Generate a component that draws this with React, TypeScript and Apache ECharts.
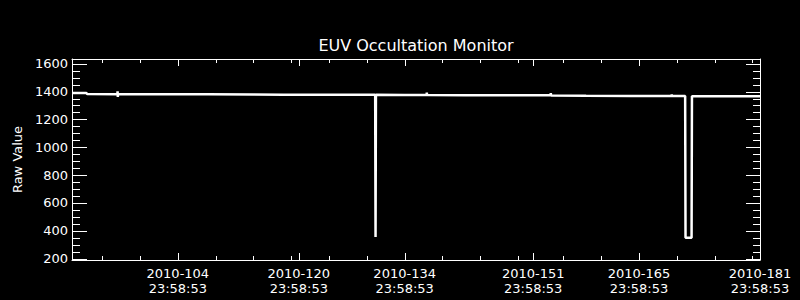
import React, { useEffect, useRef } from "react";
import * as echarts from "echarts";

// x values: days since 2010-090 23:58:53
const X_MIN = 0;
const X_MAX = 91;
const Y_MIN = 190;
const Y_MAX = 1634;

const majorTickDays = [14, 30, 44, 61, 75, 91];
const majorTickLabels = [
  "2010-104\n23:58:53",
  "2010-120\n23:58:53",
  "2010-134\n23:58:53",
  "2010-151\n23:58:53",
  "2010-165\n23:58:53",
  "2010-181\n23:58:53",
];
const minorTickDays = [4, 9, 14, 19, 24, 29, 34, 39, 44, 49, 54, 59, 65, 70, 75, 80, 85, 90];

const yMajorTicks = [200, 400, 600, 800, 1000, 1200, 1400, 1600];
const yMinorTicks = [
  200, 250, 300, 350, 400, 450, 500, 550, 600, 650, 700, 750, 800, 850, 900, 950, 1000,
  1050, 1100, 1150, 1200, 1250, 1300, 1350, 1400, 1450, 1500, 1550, 1600,
];

const sampleDays = [
  0, 1.9, 2.0, 6.0, 6.03, 6.06, 6.09, 12, 18, 24, 28, 33, 37, 40.1, 40.15, 40.2, 44, 46.9,
  46.93, 46.96, 52, 57, 63.3, 63.33, 63.36, 68, 74, 78, 79.3, 79.33, 79.36, 81.1, 81.15,
  81.95, 82.0, 85, 88, 91,
];
const rawValues = [
  1390, 1389, 1382, 1381, 1402, 1361, 1381, 1381, 1380, 1379, 1378, 1378, 1377, 1377, 355,
  1377, 1376, 1375, 1392, 1375, 1374, 1373, 1373, 1388, 1372, 1370, 1369, 1368, 1368, 1380,
  1368, 1368, 350, 350, 1367, 1367, 1366, 1366,
];

const FONT = "DejaVu Sans";
const WHITE = "#ffffff";

// Tick marks drawn through the axes' own scales (api.coord), on all four sides of the box.
const tickSeries = (kind: "x" | "y", values: number[], lenA: number, lenB: number) => ({
  type: "custom",
  xAxisIndex: 0,
  yAxisIndex: 0,
  clip: false,
  silent: true,
  z: 5,
  data: values.map((v) => (kind === "x" ? [v, Y_MIN] : [X_MIN, v])),
  encode: { x: 0, y: 1 },
  renderItem: (_params: any, api: any) => {
    const style = { stroke: WHITE, lineWidth: 1 };
    if (kind === "x") {
      const v = api.value(0);
      const b = api.coord([v, Y_MIN]);
      const t = api.coord([v, Y_MAX]);
      const x = Math.round(b[0]) + 0.5;
      return {
        type: "group",
        children: [
          { type: "line", shape: { x1: x, y1: b[1], x2: x, y2: b[1] - lenA }, style },
          { type: "line", shape: { x1: x, y1: t[1], x2: x, y2: t[1] + lenB }, style },
        ],
      };
    }
    const v = api.value(1);
    const l = api.coord([X_MIN, v]);
    const r = api.coord([X_MAX, v]);
    const y = Math.round(l[1]) + 0.5;
    return {
      type: "group",
      children: [
        { type: "line", shape: { x1: l[0], y1: y, x2: l[0] + lenA, y2: y }, style },
        { type: "line", shape: { x1: r[0], y1: y, x2: r[0] - lenB, y2: y }, style },
      ],
    };
  },
});

export default function App() {
  const ref = useRef<HTMLDivElement>(null);
  useEffect(() => {
    if (!ref.current) return;
    const chart = echarts.init(ref.current, null, { renderer: "svg" });
    chart.setOption({
      animation: false,
      backgroundColor: "#000000",
      title: {
        text: "EUV Occultation Monitor",
        left: 416,
        top: 37,
        padding: 0,
        textAlign: "center",
        textStyle: { color: WHITE, fontSize: 16, fontWeight: "normal", fontFamily: FONT },
      },
      grid: { left: 72, right: 40, top: 59, bottom: 40, containLabel: false },
      xAxis: [
        {
          type: "value",
          min: X_MIN,
          max: X_MAX,
          position: "bottom",
          axisLine: { show: true, onZero: false, lineStyle: { color: WHITE, width: 1 } },
          axisTick: { show: false },
          axisLabel: {
            show: true,
            customValues: majorTickDays,
            formatter: (v: number) => {
              const i = majorTickDays.indexOf(Math.round(v));
              return i >= 0 ? majorTickLabels[i] : "";
            },
            color: WHITE,
            fontSize: 13,
            fontFamily: FONT,
            lineHeight: 15,
            margin: 6,
            hideOverlap: false,
          },
          splitLine: { show: false },
        },
        {
          type: "value",
          min: X_MIN,
          max: X_MAX,
          position: "top",
          axisLine: { show: true, onZero: false, lineStyle: { color: WHITE, width: 1 } },
          axisTick: { show: false },
          axisLabel: { show: false },
          splitLine: { show: false },
        },
      ],
      yAxis: [
        {
          type: "value",
          min: Y_MIN,
          max: Y_MAX,
          position: "left",
          name: "Raw Value",
          nameLocation: "middle",
          nameGap: 44,
          nameTextStyle: { color: WHITE, fontSize: 13, fontFamily: FONT },
          axisLine: { show: true, onZero: false, lineStyle: { color: WHITE, width: 1 } },
          axisTick: { show: false },
          axisLabel: {
            show: true,
            customValues: yMajorTicks,
            formatter: (v: number) => String(v),
            color: WHITE,
            fontSize: 13,
            fontFamily: FONT,
            margin: 4,
            hideOverlap: false,
          },
          splitLine: { show: false },
        },
        {
          type: "value",
          min: Y_MIN,
          max: Y_MAX,
          position: "right",
          axisLine: { show: true, onZero: false, lineStyle: { color: WHITE, width: 1 } },
          axisTick: { show: false },
          axisLabel: { show: false },
          splitLine: { show: false },
        },
      ],
      series: [
        tickSeries("x", minorTickDays, 4, 4),
        tickSeries("x", majorTickDays, 7, 7),
        tickSeries("y", yMinorTicks, 8, 7),
        tickSeries("y", yMajorTicks, 15, 14),
        {
          type: "line",
          xAxisIndex: 0,
          yAxisIndex: 0,
          data: sampleDays.map((d, i) => [d, rawValues[i]]),
          showSymbol: false,
          symbol: "none",
          z: 3,
          lineStyle: { color: WHITE, width: 2.5 },
          itemStyle: { color: WHITE },
        },
      ],
    });
    return () => chart.dispose();
  }, []);
  return (
    <div
      ref={ref}
      style={{ position: "fixed", left: 0, top: 0, width: 800, height: 300, background: "#000" }}
    />
  );
}
